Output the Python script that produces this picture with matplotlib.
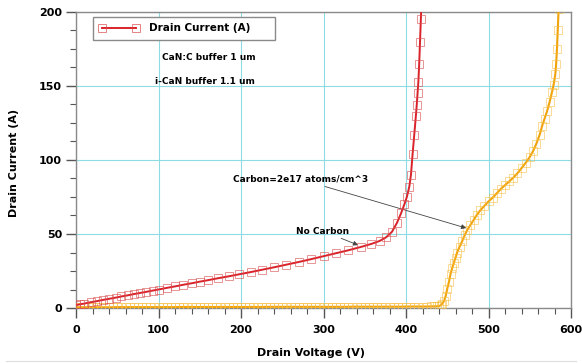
import matplotlib.pyplot as plt
from matplotlib.lines import Line2D

# I-V sweep, no carbon doping (i-CaN buffer)
vd_nocarbon = [0, 5, 10, 18, 25, 33, 40, 48, 55, 63, 70, 78, 85, 93, 100, 110, 120, 130,
               140, 150, 160, 172, 185, 198, 212, 226, 240, 255, 270, 285, 300, 315, 330,
               345, 358, 368, 376, 383, 389, 394, 398, 401, 404, 406, 408, 410, 412, 413,
               414, 415, 416, 417, 418, 419]
id_nocarbon = [2.0, 2.5, 3.0, 3.9, 4.6, 5.5, 6.2, 7.0, 7.8, 8.6, 9.4, 10.2, 10.9, 11.8, 12.5,
               13.6, 14.6, 15.7, 16.7, 17.8, 18.8, 20.1, 21.4, 22.8, 24.3, 25.9, 27.5, 29.3,
               31.1, 33.0, 35.0, 37.0, 39.0, 41.2, 43.3, 45.3, 47.8, 51.5, 57.5, 64.0, 70.0,
               75.0, 82.0, 90.0, 104.0, 117.0, 130.0, 137.0, 145.0, 153.0, 165.0, 180.0,
               195.0, 210.0]

# I-V sweep, carbon doped buffer (CaN:C)
vd_carbon = [0, 5, 10, 15, 20, 25, 30, 35, 40, 45, 50, 55, 60, 65, 70, 75, 80, 85, 90, 95,
             100, 105, 110, 115, 120, 125, 130, 135, 140, 145, 150, 155, 160, 165, 170, 175,
             180, 185, 190, 195, 200, 205, 210, 215, 220, 225, 230, 235, 240, 245, 250, 255,
             260, 265, 270, 275, 280, 285, 290, 295, 300, 305, 310, 315, 320, 325, 330, 335,
             340, 345, 350, 355, 360, 365, 370, 375, 380, 385, 390, 395, 400, 405, 410, 415,
             420, 425, 430, 434, 437, 440, 442, 444, 446, 448, 450, 452, 454, 456, 458, 460,
             462, 465, 468, 471, 474, 478, 482, 486, 490, 495, 500, 505, 510, 515, 520, 525,
             530, 535, 540, 545, 550, 554, 558, 562, 565, 568, 571, 574, 577, 579, 581, 582,
             583, 584, 585]
id_carbon = [0.5, 0.5, 0.5, 0.5, 0.5, 0.5, 0.5, 0.5, 0.5, 0.5, 0.6, 0.6, 0.6, 0.6, 0.6, 0.6,
             0.6, 0.6, 0.6, 0.6, 0.6, 0.6, 0.6, 0.6, 0.6, 0.7, 0.7, 0.7, 0.7, 0.7, 0.7, 0.7,
             0.7, 0.7, 0.7, 0.7, 0.7, 0.7, 0.7, 0.7, 0.7, 0.7, 0.7, 0.7, 0.7, 0.7, 0.8, 0.8,
             0.8, 0.8, 0.8, 0.8, 0.8, 0.8, 0.8, 0.8, 0.8, 0.8, 0.8, 0.8, 0.8, 0.8, 0.8, 0.8,
             0.8, 0.8, 0.8, 0.9, 0.9, 0.9, 0.9, 0.9, 0.9, 0.9, 0.9, 0.9, 0.9, 0.9, 0.9, 0.9,
             1.0, 1.0, 1.0, 1.0, 1.0, 1.0, 1.1, 1.1, 1.2, 1.3,
             1.8, 3.0, 4.5, 8.0, 13.0, 17.5, 23.0, 27.0, 30.5, 34.0, 37.5, 41.5, 45.0, 49.0,
             52.5, 56.0, 59.5, 63.0, 66.0, 69.0, 72.0, 74.5, 77.5, 80.5, 83.0, 85.5, 88.0,
             91.0, 94.5, 98.0, 102.0, 106.0, 111.0, 117.0, 123.0, 128.0, 133.0, 139.0, 146.0,
             151.0, 158.0, 165.0, 175.0, 188.0, 202.0]

red = '#d9222a'
orange = '#f0a30a'

fig = plt.figure(figsize=(5.82, 3.63), dpi=100)
ax = fig.add_axes([0.1306, 0.1515, 0.8505, 0.8155])

ax.plot(vd_carbon, id_carbon, color=orange, lw=1.5, marker='s', ms=5.5, mfc='none',
        mec=(0.97, 0.74, 0.25, 0.55), mew=0.7, zorder=3)
ax.plot(vd_nocarbon, id_nocarbon, color=red, lw=1.4, marker='s', ms=5.5, mfc='none',
        mec=(0.85, 0.3, 0.3, 0.6), mew=0.7, zorder=4)

ax.set_xlim(0, 600)
ax.set_ylim(0, 200)
ax.set_xticks([0, 100, 200, 300, 400, 500, 600])
ax.set_yticks([0, 50, 100, 150, 200])
ax.set_xticks(range(0, 601, 20), minor=True)
ax.set_yticks([i * 12.5 for i in range(17)], minor=True)
ax.grid(True, which='major', color='#8fdbe3', lw=0.8)
ax.set_axisbelow(True)

for s in ax.spines.values():
    s.set_color('#8a8a8a')
    s.set_linewidth(1.0)
ax.tick_params(which='major', length=7, width=1.0, color='#555555', labelsize=8, pad=3)
ax.tick_params(which='minor', length=4, width=0.8, color='#555555')
for lab in ax.get_xticklabels() + ax.get_yticklabels():
    lab.set_fontweight('bold')
ax.tick_params(axis='x', pad=5)

ax.set_xlabel('Drain Voltage (V)', fontsize=8, fontweight='bold')
ax.set_ylabel('Drain Current (A)', fontsize=8, fontweight='bold')
ax.xaxis.set_label_coords(0.475, -0.135)
ax.yaxis.set_label_coords(-0.115, 0.49)

handle = Line2D([], [], color=red, lw=1.4, marker='s', ms=6, mfc='none',
                mec=(0.85, 0.3, 0.3, 0.7), mew=0.7)
leg = ax.legend([handle], ['Drain Current (A)     '], loc='upper left',
                bbox_to_anchor=(0.034, 0.983), borderaxespad=0, numpoints=2,
                handlelength=3.8, fancybox=False, framealpha=1, edgecolor='#8a8a8a',
                prop={'weight': 'bold', 'size': 7.5}, borderpad=0.6, handletextpad=1.0)
leg.get_frame().set_linewidth(1.0)

ax.text(104, 169, 'CaN:C buffer 1 um', fontsize=6.5, fontweight='bold', va='center')
ax.text(96, 153, 'i-CaN buffer 1.1 um', fontsize=6.5, fontweight='bold', va='center')

arrow = dict(arrowstyle='-|>', color='#444444', lw=0.6, mutation_scale=7, shrinkA=0, shrinkB=0)
ax.annotate('Carbon=2e17 atoms/cm^3', xy=(473, 54), xytext=(190, 87),
            fontsize=6.5, fontweight='bold', va='center', arrowprops=arrow)
ax.annotate('No Carbon', xy=(342, 42.5), xytext=(267, 52),
            fontsize=6.5, fontweight='bold', va='center', arrowprops=arrow)

fig.add_artist(Line2D([0.01, 0.99], [0.006, 0.006], color='#dddddd', lw=0.8))

fig.savefig('out.png', dpi=100)
